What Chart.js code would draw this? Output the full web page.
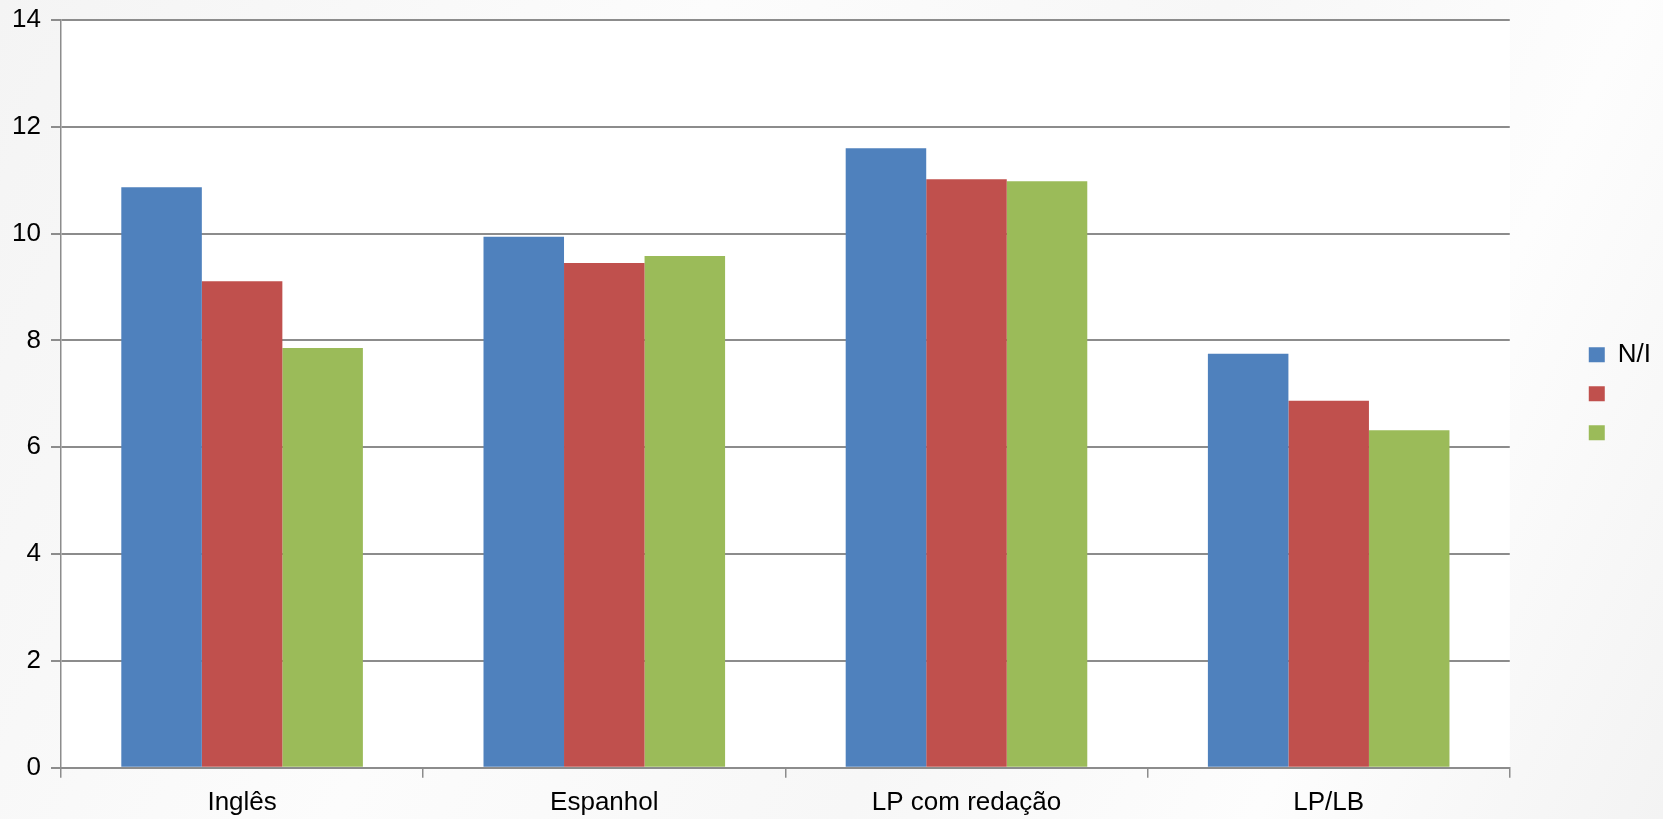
<!DOCTYPE html>
<html lang="pt">
<head>
<meta charset="utf-8">
<title>Médias por disciplina</title>
<script src="https://cdn.jsdelivr.net/npm/chart.js@4.4.1/dist/chart.umd.min.js"></script>
<style>
  html, body { margin: 0; padding: 0; }
  body {
    width: 1663px; height: 819px; overflow: hidden;
    background: linear-gradient(115deg, #f4f4f4 0%, #fcfcfc 35%, #f7f7f7 60%, #fdfdfd 80%, #f3f3f3 100%);
  }
  #wrap { position: relative; width: 1663px; height: 819px; }
</style>
</head>
<body>
<div id="wrap"><canvas id="grafico"></canvas></div>
<script>
// Disciplinas e médias de cada série
const categorias = ['Inglês', 'Espanhol', 'LP com redação', 'LP/LB'];
const serieNI = [10.87, 9.94, 11.60, 7.75];
const serie2  = [9.11, 9.45, 11.02, 6.87];
const serie3  = [7.86, 9.58, 10.98, 6.32];
const rotulosSeries = ['N/I', '', ''];
const coresSeries = ['#4f81bd', '#c0504d', '#9bbb59'];
const eixoY = { min: 0, max: 14, passo: 2 };

const familia = "'Liberation Sans', Arial, Helvetica, sans-serif";
const fonte = { family: familia, size: 26 };
const fonteEixo = { family: familia, size: 26, lineHeight: 0.8 };
const fonteEixoY = { family: familia, size: 26, lineHeight: 0.77 };
const cinzaGrade = '#8c8c8c';

// Fundo branco apenas na área de plotagem
const fundoArea = {
  id: 'fundoArea',
  beforeDraw(chart) {
    const { ctx, chartArea: a } = chart;
    ctx.save();
    ctx.fillStyle = '#ffffff';
    ctx.fillRect(a.left, a.top, a.right - a.left, a.bottom - a.top);
    ctx.restore();
  }
};

const series = [serieNI, serie2, serie3];

new Chart(document.getElementById('grafico'), {
  type: 'bar',
  data: {
    labels: categorias,
    datasets: series.map((valores, i) => ({
      label: rotulosSeries[i],
      data: valores,
      backgroundColor: coresSeries[i],
      borderWidth: 0,
      categoryPercentage: 0.667,
      barPercentage: 1.0
    }))
  },
  options: {
    responsive: true,
    maintainAspectRatio: false,
    animation: false,
    layout: { padding: { top: 0, left: 0, right: 2, bottom: 0 } },
    plugins: {
      tooltip: { enabled: false },
      legend: {
        position: 'right',
        fullSize: false,
        labels: {
          font: fonte,
          color: '#000000',
          boxWidth: 16,
          boxHeight: 15,
          padding: 13
        }
      }
    },
    scales: {
      x: {
        afterFit(escala) { escala.height = 51.3; },
        grid: { display: true, drawOnChartArea: false, drawTicks: true, tickLength: 10, color: cinzaGrade, lineWidth: 1.5, offset: true },
        border: { display: true, color: cinzaGrade, width: 2 },
        ticks: { font: fonteEixo, color: '#000000', padding: 15, maxRotation: 0 }
      },
      y: {
        min: eixoY.min,
        max: eixoY.max,
        afterFit(escala) { escala.width = 61; },
        grid: { color: cinzaGrade, lineWidth: 2, tickLength: 10, drawTicks: true },
        border: { display: true, color: cinzaGrade, width: 1.5 },
        ticks: { stepSize: eixoY.passo, font: fonteEixoY, color: '#000000', padding: 10 }
      },
      margemDireita: {
        type: 'linear',
        position: 'right',
        display: true,
        grid: { display: false },
        border: { display: false },
        ticks: { display: false },
        afterFit(escala) { escala.width = 66; }
      }
    }
  },
  plugins: [fundoArea]
});
</script>
</body>
</html>
